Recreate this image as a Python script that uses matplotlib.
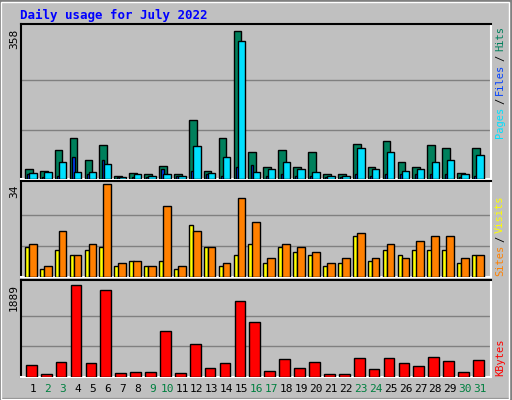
import matplotlib
matplotlib.use("Agg")
import matplotlib.pyplot as plt
from matplotlib.patches import Rectangle

days = list(range(1, 32))
hits = [23, 20, 69, 100, 45, 81, 8, 15, 11, 32, 13, 142, 20, 98, 358, 64,
        28, 71, 28, 64, 11, 13, 84, 30, 91, 42, 30, 81, 76, 15, 76]
files = [12, 4, 8, 52, 11, 47, 4, 6, 5, 25, 7, 19, 12, 8, 28, 33,
         7, 13, 8, 8, 6, 5, 11, 8, 13, 11, 13, 11, 11, 6, 8]
pages = [15, 18, 40, 18, 18, 35, 6, 13, 8, 11, 8, 79, 15, 54, 334, 18,
         25, 40, 23, 18, 8, 8, 74, 25, 64, 20, 23, 40, 47, 13, 59]
visits = [12, 4, 17, 8, 12, 34, 5, 6, 4, 26, 4, 17, 11, 5, 29, 20,
          7, 12, 11, 9, 5, 7, 16, 7, 12, 7, 13, 15, 15, 7, 8]
sites = [11, 3, 10, 8, 10, 11, 4, 6, 4, 6, 3, 19, 11, 4, 8, 12,
         5, 11, 9, 8, 4, 5, 15, 6, 10, 8, 10, 10, 10, 5, 8]
kbytes = [255, 69, 317, 1889, 297, 1786, 90, 110, 110, 938, 90, 690, 193, 297, 1558, 1124,
          131, 379, 193, 317, 69, 69, 400, 172, 400, 297, 234, 421, 338, 110, 359]
weekend = {2, 3, 9, 10, 16, 17, 23, 24, 30, 31}

W, H = 512, 400
BG = "#C0C0C0"
mono = "DejaVu Sans Mono"
fig = plt.figure(figsize=(W / 100, H / 100), dpi=100, facecolor=BG)

# 3D-ish frame
fig.add_artist(Rectangle((0, 0), 1, 1, transform=fig.transFigure, fill=False,
                         edgecolor="#808080", lw=3))
fig.add_artist(Rectangle((0.002, 0.002), 0.993, 0.993, transform=fig.transFigure,
                         fill=False, edgecolor="white", lw=1))


def panel(top, bottom):
    left, right = 21, 491
    ax = fig.add_axes([left / W, 1 - bottom / H, (right - left) / W, (bottom - top) / H])
    ax.set_facecolor(BG)
    ax.set_xlim(0.13, 31.67)
    ax.set_xticks([])
    ax.set_yticks([])
    for s in ax.spines.values():
        s.set_color("black")
        s.set_linewidth(1.5)
    ax.spines["bottom"].set_color("white")
    ax.spines["right"].set_color("white")
    return ax


u = 1 / 14.9  # one pixel in day units


def bars(ax, vals, x0, x1, color):
    ax.bar([d + x0 * u for d in days], vals, width=(x1 - x0) * u, align="edge",
           color=color, edgecolor="black", linewidth=1, zorder=3)


def grid(ax, vmax):
    for f in (1 / 3, 2 / 3):
        ax.axhline(vmax * f, color="#808080", lw=1, zorder=1)


ax1 = panel(24, 179)
ax1.set_ylim(0, 374)
grid(ax1, 358)
bars(ax1, hits, -9, -1.3, "#00805C")
bars(ax1, files, -6.7, -4, "#0040FF")
bars(ax1, pages, -4.7, 2.7, "#00E0FF")

ax2 = panel(181, 277)
ax2.set_ylim(0, 35.1)
grid(ax2, 34)
bars(ax2, sites, -9, -4.7, "#FFFF00")
bars(ax2, visits, -5, 2.7, "#FF8000")

ax3 = panel(280, 377)
ax3.set_ylim(0, 1998)
grid(ax3, 1889)
bars(ax3, kbytes, -8, 2.7, "#FF0000")

fig.text(20 / W, 1 - 15 / H, "Daily usage for July 2022", color="#0000FF",
         family=mono, weight="bold", fontsize=9, va="center")

for y, t in ((29, "358"), (184, "34"), (284, "1889")):
    fig.text(14 / W, 1 - y / H, t, rotation=90, family=mono, fontsize=8,
             va="top", ha="center")

for d in days:
    x = 34 + (d - 1) * 14.9 - 1
    fig.text(x / W, 1 - 389 / H, str(d), family=mono, fontsize=8, ha="center",
             va="center", color="#008040" if d in weekend else "black")


def side(parts, ybottom):
    y = ybottom
    for t, c in parts:
        fig.text(500 / W, 1 - y / H, t, rotation=90, family=mono, fontsize=7.5,
                 color=c, ha="center", va="bottom")
        y -= len(t) * 5.9 + 4


side([("Pages", "#00E0FF"), ("/", "black"), ("Files", "#0040FF"), ("/", "black"),
      ("Hits", "#00805C")], 138)
side([("Sites", "#FF8000"), ("/", "black"), ("Visits", "#FFFF00")], 276)
side([("KBytes", "#FF0000")], 376)

fig.savefig("out.png", dpi=100, facecolor=BG)
